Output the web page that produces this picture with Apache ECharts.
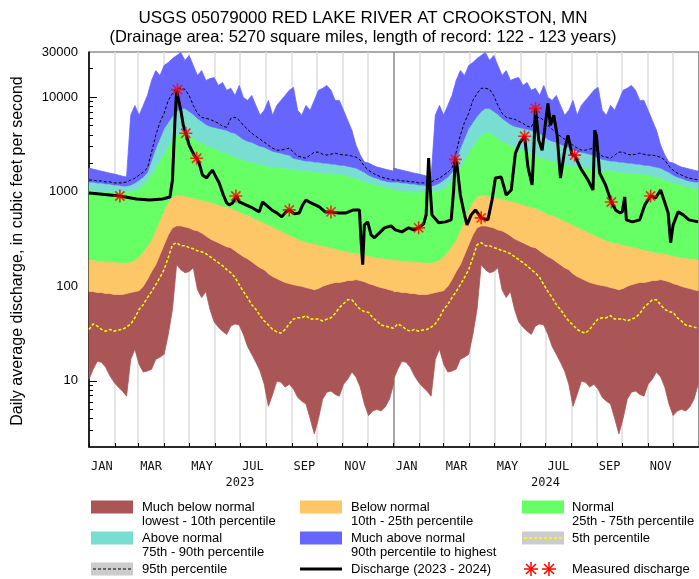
<!DOCTYPE html>
<html>
<head>
<meta charset="utf-8">
<script src="https://cdn.jsdelivr.net/npm/echarts@6.0.0/dist/echarts.min.js"></script>
<style>
  html, body { margin: 0; padding: 0; background: #fff; }
  #chart { width: 699px; height: 579px; }
</style>
</head>
<body>
<div id="chart"></div>
<script>
// day of year for the daily-statistics samples (same statistics for 2023 and 2024)
const pctDays = [0,5,10,15,20,25,30,35,40,45,50,55,60,65,70,75,80,85,90,95,100,105,110,115,120,125,130,135,140,145,150,155,160,165,170,175,180,185,190,195,200,205,210,215,220,225,230,235,240,245,250,255,260,265,270,275,280,285,290,295,300,305,310,315,320,325,330,335,340,345,350,355,360,365]
const yearOffsets = [0, 365]

// daily percentile statistics, cubic feet per second
const maxQ = [1780,1730,1690,1650,1610,1570,1540,1500,1460,1430, 6420,8180,6420,8180,10400,15000,19100,16900,21600,23200, 25600,27500,29600,24400,27500,21600,16900,19100,15000,15700, 16100,13300,14300,11800,12400,10400,13300,9930,9240,10400, 8180,6420,7250,9240,6420,8180,9240,10400,11800,12700, 7250,6420,8180,7250,9240,11800,12400,13300,11800,9240, 9240,7250,5690,4460,3100,2440,2060,2010,1910,1820, 1780,1730,1690,1650]
const p95Q = [1330,1330,1300,1300,1270,1270,1240,1240,1240,1270, 1330,1390,1500,1610,1780,2620,3950,5420,6740,9240, 10900,12400,12400,12100,10400,8180,6740,6120,5970,5830, 5550,5290,4920,4800,5970,6120,5690,5040,4570,4150, 3860,3590,3340,3100,2890,2750,2750,2820,2890,2620, 2380,2320,2260,2440,2620,2620,2490,2440,2490,2560, 2490,2440,2440,2380,2320,2160,1860,1690,1570,1500, 1430,1390,1360,1330]
const p90Q = [1270,1270,1240,1240,1210,1210,1180,1180,1150,1150, 1180,1240,1330,1430,1610,2160,2890,3680,4680,5420, 6270,7070,7610,7610,7070,6580,5970,5550,5160,4920, 4800,4680,4570,4460,4250,4150,3860,3590,3420,3340, 3180,3030,2960,2820,2680,2620,2560,2490,2440,2260, 2210,2160,2110,2110,2060,2060,2010,2010,1960,1960, 1910,1910,1860,1820,1780,1690,1610,1500,1430,1390, 1330,1300,1270,1270]
const p75Q = [1040,1040,1020,1020,993,993,993,993,993,993, 1020,1040,1090,1180,1330,1540,1820,2160,2560,3030, 3500,3950,4250,4250,3950,3680,3420,3260,3100,2960, 2890,2750,2620,2560,2440,2320,2260,2160,2110,2060, 2010,1960,1910,1860,1820,1820,1780,1780,1730,1730, 1690,1690,1650,1650,1610,1610,1570,1570,1570,1540, 1540,1500,1460,1430,1390,1330,1300,1240,1210,1180, 1150,1120,1090,1070]
const p25Q = [191,191,186,186,182,182,182,178,178,178, 182,191,206,232,269,310,395,504,642,779, 880,923,923,901,880,859,838,818,798,779, 761,725,708,691,674,642,612,583,569,542, 516,492,469,446,425,405,386,367,350,334, 318,303,296,289,282,275,269,262,256,250, 243,237,232,226,226,221,216,211,206,201, 201,196,196,191]
const p10Q = [88,88,86,86,84,84,82,82,82,84, 86,88,90,100,118,143,169,216,275,350, 415,436,436,425,415,395,386,367,342,318, 303,289,275,262,256,237,221,206,196,182, 169,157,150,136,127,121,115,110,107,104, 102,100,97,95,92,95,100,104,107,110, 110,112,115,115,118,115,112,107,104,100, 97,95,92,90]
const p05Q = [35,40,38,35,33.5,35,33.5,34.5,35,37, 40,46.5,57,64,76,88,104,124,150,201, 275,289,269,269,256,250,237,232,221,206, 191,178,165,150,139,124,104,88,76,64, 57,49,43,39,35,33,32,35,40,45, 46.5,46.5,49,45,45,45,43,45,46.5,51.5, 59.5,65.5,72,72,64,57,54,53,46.5,43, 39,38,37,36]
const minQ = [10.4,13.3,16.1,15.7,13.9,11.3,9.7,8.6,7.8,6.9, 16.9,21.6,15,12.4,12.7,13.3,16.9,17.8,19.1,31, 57,169,150,139,143,157,92,76,88,57, 42,37,33.5,31,38,40,39,31,23.1,19.1, 15.7,12.7,9.2,5.4,7.2,9.9,9.7,8.6,9.2,8.2, 6.7,6.1,5.7,4.0,2.75,4.0,6.4,7.6,7.8,7.2, 6.9,9.2,10.4,12.4,11,8.6,5.7,4.3,4.8,5.0, 4.8,5.3,6.4,9.2]

// discharge 2023 - 2024, days since 2023-01-01
const flowDays = [0,13,37,57,73,88,97,100,103,105,107,110,113,116,120,126,129,132,136,141,144,148,151,156,161,165,168,172,177,180,188,196,204,208,212,219,225,231,236,240,246,252,256,260,266,276,283,290,299,308,317,324,326,328,330,334,338,342,348,354,362,
  367,375,383,389,395,401,404,407,409,411,419,427,434,437,439,441,445,450,453,458,463,470,478,483,487,494,500,506,511,516,522,526,531,533,535,539,543,546,550,553,557,561,565,570,574,579,582,589,598,604,606,608,612,619,626,631,636,639,642,644,651,660,666,673,679,685,689,694,697,700,706,712,719,730]
const flowQ = [969,946,901,838,818,838,880,1328,5686,11770,12350,7246,5037,4149,3102,2435,2264,2006,1499,1394,1536,1692,1499,1235,923,761,725,761,901,779,725,674,612,779,725,642,597,542,612,642,583,597,725,818,761,691,612,612,597,597,642,642,310,169,446,480,350,326,367,415,436,
  395,376,415,395,415,457,569,2264,1042,569,469,480,504,1042,2264,1910,923,569,446,569,642,529,504,818,1394,1428,923,1042,2555,3256,3859,1820,1177,2748,7607,3502,2748,4462,8588,5037,6420,3953,1394,2748,3953,2435,2435,1776,1328,1042,4462,3953,1573,1177,779,642,597,612,880,504,480,504,725,901,859,1042,818,597,289,446,612,569,504,480]

// field measurements
const measDays = [37,106,116,129,176,240,290,395,439,470,522,535,582,626,673]
const measQ = [901,12000,4150,2260,901,642,612,415,2200,529,3860,7600,2435,779,901]

// axes
const monthStarts = [0,31,59,90,120,151,181,212,243,273,304,334,365,396,425,456,486,517,547,578,609,639,670,700,731]
const monthLabelDays = [15.5,74.5,135.5,196.5,258,319,380.5,440.5,501.5,562.5,624,685]
const monthLabels = ['JAN','MAR','MAY','JUL','SEP','NOV','JAN','MAR','MAY','JUL','SEP','NOV']
const yearLabelDays = [181, 547]
const yearLabels = ['2023', '2024']
const yLabelVals = [10, 100, 1000, 10000, 30000]
const yMajorTicks = [10, 100, 1000, 10000]
const yMinorTicks = [3,4,5,6,7,8,9,20,30,40,50,60,70,80,90,200,300,400,500,600,700,800,900,2000,3000,4000,5000,6000,7000,8000,9000,20000]

const colors = {
  muchBelow: '#AB5656',
  below: '#FDC666',
  normal: '#66FF66',
  above: '#78DED2',
  muchAbove: '#6666FF'
}

const STAR = 'M-1,-8L1,-8L1,8L-1,8Z M-8,-1L8,-1L8,1L-8,1Z M-4.96,-6.36L6.36,4.96L4.96,6.36L-6.36,-4.96Z M4.96,-6.36L6.36,-4.96L-4.96,6.36L-6.36,4.96Z'

function yearly(vals) {
  const out = []
  yearOffsets.forEach(off => {
    pctDays.forEach((d, i) => out.push([off + d, vals[i]]))
  })
  return out
}

// filled band between two percentile curves, drawn as one polygon through the axis scales
function bandSeries(name, lower, upper, color) {
  const rows = []
  yearOffsets.forEach(off => {
    pctDays.forEach((d, i) => rows.push([off + d, lower[i], upper[i]]))
  })
  return {
    name, type: 'custom', silent: true, data: rows,
    encode: { x: 0, y: [1, 2] },
    renderItem(params, api) {
      if (params.dataIndex !== 0) return null
      const top = rows.map(r => api.coord([r[0], r[2]]))
      const bottom = rows.map(r => api.coord([r[0], r[1]])).reverse()
      return {
        type: 'polygon',
        shape: { points: top.concat(bottom) },
        style: { fill: color, stroke: color, lineWidth: 0.8 }
      }
    }
  }
}

const chart = echarts.init(document.getElementById('chart'))

const FONT = 'Liberation Sans, Arial, sans-serif'
const legendText = (x, y, text) => ({
  type: 'text', x, y,
  style: { text, font: '13px ' + FONT, fill: '#000', lineHeight: 14, textVerticalAlign: 'top' }
})
const swatch = (x, y, fill) => ({ type: 'rect', shape: { x, y, width: 42, height: 13 }, style: { fill } })
// legend asterisk drawn from four short strokes
const legendStar = (cx, cy) => ({
  type: 'group', x: cx, y: cy,
  children: [0, 45, 90, 135].map(a => {
    const r = a * Math.PI / 180
    return { type: 'line', shape: { x1: -7 * Math.cos(r), y1: -7 * Math.sin(r), x2: 7 * Math.cos(r), y2: 7 * Math.sin(r) }, style: { stroke: '#ff0000', lineWidth: 1.5 } }
  })
})

const option = {
  animation: false,
  backgroundColor: '#fff',
  grid: { left: 89, top: 52, right: -3, bottom: 132, show: true, borderColor: '#555', borderWidth: 1 },
  xAxis: [{
    type: 'value', min: 0, max: 731,
    axisLine: { lineStyle: { color: '#000', width: 1.5 } },
    axisTick: { inside: true, length: 4, customValues: monthStarts, lineStyle: { color: '#000' } },
    axisLabel: {
      customValues: monthLabelDays, margin: 14, color: '#111',
      fontFamily: 'DejaVu Sans Mono', fontSize: 12,
      formatter: v => {
        let k = 0
        monthLabelDays.forEach((d, i) => { if (Math.abs(d - v) < Math.abs(monthLabelDays[k] - v)) k = i })
        return monthLabels[k]
      }
    },
    splitLine: { show: true, lineStyle: { width: 1.5, color: ['#888','#ddd','#ddd','#ddd','#ddd','#ddd','#ddd','#ddd','#ddd','#ddd','#ddd','#ddd'] } }
  }, {
    type: 'value', min: 0, max: 731, position: 'bottom',
    axisLine: { show: false }, axisTick: { show: false }, splitLine: { show: false },
    axisLabel: {
      customValues: yearLabelDays, margin: 30, color: '#111',
      fontFamily: 'DejaVu Sans Mono', fontSize: 12,
      formatter: v => yearLabels[v < 365 ? 0 : 1]
    }
  }],
  yAxis: [{
    type: 'log', logBase: 10, min: 2, max: 30000,
    axisLine: { show: true, lineStyle: { color: '#000', width: 1.5 } },
    axisTick: { show: true, inside: true, length: 8, customValues: yMajorTicks, lineStyle: { color: '#000' } },
    axisLabel: {
      customValues: yLabelVals, margin: 11, color: '#000',
      fontFamily: FONT, fontSize: 13,
      formatter: v => String(Math.round(v))
    },
    splitLine: { show: false }
  }, {
    type: 'log', logBase: 10, min: 2, max: 30000, position: 'left',
    axisLine: { show: false },
    axisTick: { show: true, inside: true, length: 4, customValues: yMinorTicks, lineStyle: { color: '#000' } },
    axisLabel: { show: false },
    splitLine: { show: false }
  }],
  series: [
    bandSeries('Much below normal', minQ, p10Q, colors.muchBelow),
    bandSeries('Below normal', p10Q, p25Q, colors.below),
    bandSeries('Normal', p25Q, p75Q, colors.normal),
    bandSeries('Above normal', p75Q, p90Q, colors.above),
    bandSeries('Much above normal', p90Q, maxQ, colors.muchAbove),
    {
      name: '5th percentile', type: 'line', data: yearly(p05Q), symbol: 'none', silent: true,
      lineStyle: { color: '#ffff00', width: 1.5, type: [3, 2] }
    },
    {
      name: '95th percentile', type: 'line', data: yearly(p95Q), symbol: 'none', silent: true,
      lineStyle: { color: '#000', width: 1, type: [3, 2] }
    },
    {
      name: 'Discharge', type: 'line', data: flowDays.map((d, i) => [d, flowQ[i]]), symbol: 'none', silent: true,
      lineStyle: { color: '#000', width: 3 }
    },
    {
      name: 'Measured discharge', type: 'scatter', data: measDays.map((d, i) => [d, measQ[i]]),
      symbol: 'path://' + STAR, symbolSize: 13, itemStyle: { color: '#ff0000' }, silent: true, z: 5
    }
  ],
  graphic: [
    { type: 'text', x: 363, y: 18, style: { text: 'USGS 05079000 RED LAKE RIVER AT CROOKSTON, MN', font: '17px ' + FONT, fill: '#000', textAlign: 'center', textVerticalAlign: 'middle' } },
    { type: 'text', x: 363, y: 37, style: { text: '(Drainage area: 5270 square miles, length of record: 122 - 123 years)', font: '16.5px ' + FONT, fill: '#000', textAlign: 'center', textVerticalAlign: 'middle' } },
    { type: 'text', x: 18, y: 251, rotation: Math.PI / 2, style: { text: 'Daily average discharge, in cubic feet per second', font: '16px ' + FONT, fill: '#000', textAlign: 'center', textVerticalAlign: 'middle' } },

    swatch(91, 500.5, colors.muchBelow), legendText(142, 500, 'Much below normal\nlowest - 10th percentile'),
    swatch(300, 500.5, colors.below), legendText(351, 500, 'Below normal\n10th - 25th percentile'),
    swatch(522, 500.5, colors.normal), legendText(572, 500, 'Normal\n25th - 75th percentile'),
    swatch(91, 531.5, colors.above), legendText(142, 531, 'Above normal\n75th - 90th percentile'),
    swatch(300, 531.5, colors.muchAbove), legendText(351, 531, 'Much above normal\n90th percentile to highest'),
    swatch(522, 531.5, '#cccccc'),
    { type: 'line', shape: { x1: 524, y1: 538, x2: 562, y2: 538 }, style: { stroke: '#ffff00', lineWidth: 1.5, lineDash: [3, 2] } },
    legendText(572, 531, '5th percentile'),
    swatch(91, 562.5, '#cccccc'),
    { type: 'line', shape: { x1: 93, y1: 569, x2: 131, y2: 569 }, style: { stroke: '#000', lineWidth: 1, lineDash: [3, 2] } },
    legendText(142, 562, '95th percentile'),
    { type: 'line', shape: { x1: 300, y1: 569, x2: 342, y2: 569 }, style: { stroke: '#000', lineWidth: 3 } },
    legendText(351, 562, 'Discharge (2023 - 2024)'),
    legendStar(531, 569), legendStar(549, 569),
    legendText(572, 562, 'Measured discharge')
  ]
}

chart.setOption(option)
</script>
</body>
</html>
